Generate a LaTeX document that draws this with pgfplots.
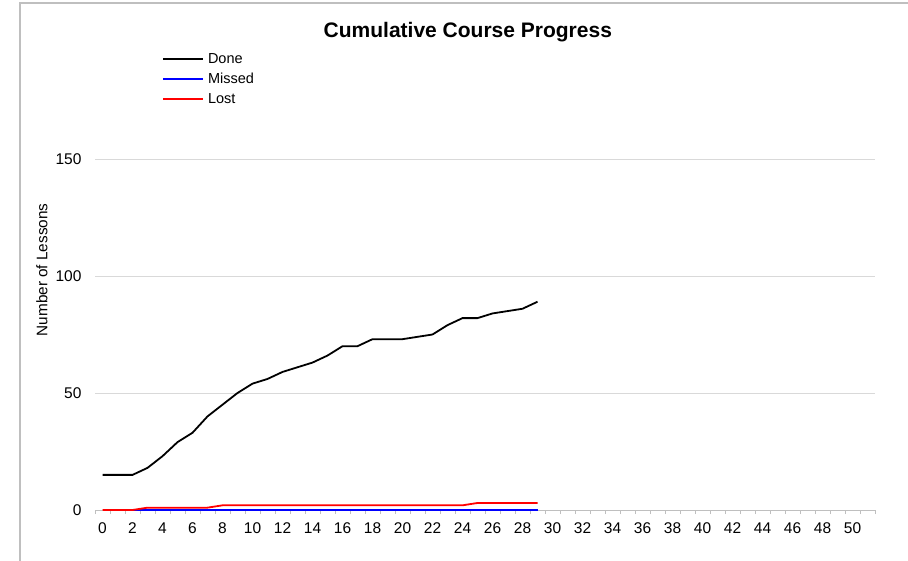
\documentclass[border=0pt]{standalone}
\usepackage{fontspec}
\setmainfont{Liberation Sans}
\usepackage{pgfplots}
\pgfplotsset{compat=1.18}
\definecolor{gridgray}{HTML}{D9D9D9}
\definecolor{axgray}{HTML}{BFBFBF}
\definecolor{bordergray}{HTML}{BFBFBF}
\begin{document}
\begin{tikzpicture}
\useasboundingbox (0,0) rectangle (908bp,561bp);
\draw[bordergray, line width=1.2bp] (20bp,-5bp) -- (20bp,558bp) -- (915bp,558bp);
\begin{axis}[
  at={(95bp,51bp)}, anchor=south west,
  scale only axis, width=780bp, height=351bp,
  xmin=-0.5, xmax=51.5, ymin=0, ymax=150,
  clip=false,
  axis x line*=bottom, axis y line*=left,
  x axis line style={draw=axgray, line width=0.8bp},
  y axis line style={draw=none},
  xtick={0,2,...,50},
  minor xtick={-0.5,0.5,...,51.5},
  ytick={0,50,100,150},
  major tick length=0pt, minor tick length=4bp,
  tick align=outside,
  x tick style={draw=axgray, line width=0.8bp},
  y tick style={draw=none},
  ymajorgrids, grid style={gridgray, line width=0.8bp},
  /pgf/number format/assume math mode=true,
  tick label style={font=\fontsize{15.5bp}{18bp}\selectfont},
  xticklabel style={yshift=-9bp},
  yticklabel style={xshift=-10bp},
  title={Cumulative Course Progress},
  title style={font=\fontsize{21bp}{24bp}\selectfont\bfseries, at={(axis description cs:0.478,1.345)}, anchor=center},
  ylabel={Number of Lessons},
  ylabel style={font=\fontsize{15.3bp}{18bp}\selectfont, at={(axis description cs:-0.068,0.684)}, anchor=center},
  legend image code/.code={\draw[#1] (0bp,0bp) -- (40bp,0bp);},
  legend cell align=left,
  legend style={at={(axis description cs:0.0859,1.3077)}, anchor=north west, draw=none, fill=none,
    inner sep=0pt, row sep=4bp, font=\fontsize{14.5bp}{17bp}\selectfont,
    nodes={inner sep=1bp, text height=11bp, text depth=3bp},
    /tikz/every odd column/.append style={column sep=3bp}},
]
\addplot[black, line width=1.8bp] coordinates {
(0,15)(1,15)(2,15)(3,18)(4,23)(5,29)(6,33)(7,40)(8,45)(9,50)(10,54)(11,56)(12,59)(13,61)(14,63)(15,66)(16,70)(17,70)(18,73)(19,73)(20,73)(21,74)(22,75)(23,79)(24,82)(25,82)(26,84)(27,85)(28,86)(29,89)};
\addlegendentry{Done}
\addplot[blue, line width=1.8bp] coordinates {
(0,0)(1,0)(2,0)(3,0)(4,0)(5,0)(6,0)(7,0)(8,0)(9,0)(10,0)(11,0)(12,0)(13,0)(14,0)(15,0)(16,0)(17,0)(18,0)(19,0)(20,0)(21,0)(22,0)(23,0)(24,0)(25,0)(26,0)(27,0)(28,0)(29,0)};
\addlegendentry{Missed}
\addplot[red, line width=1.8bp] coordinates {
(0,0)(1,0)(2,0)(3,1)(4,1)(5,1)(6,1)(7,1)(8,2)(9,2)(10,2)(11,2)(12,2)(13,2)(14,2)(15,2)(16,2)(17,2)(18,2)(19,2)(20,2)(21,2)(22,2)(23,2)(24,2)(25,3)(26,3)(27,3)(28,3)(29,3)};
\addlegendentry{Lost}
\end{axis}
\end{tikzpicture}
\end{document}
